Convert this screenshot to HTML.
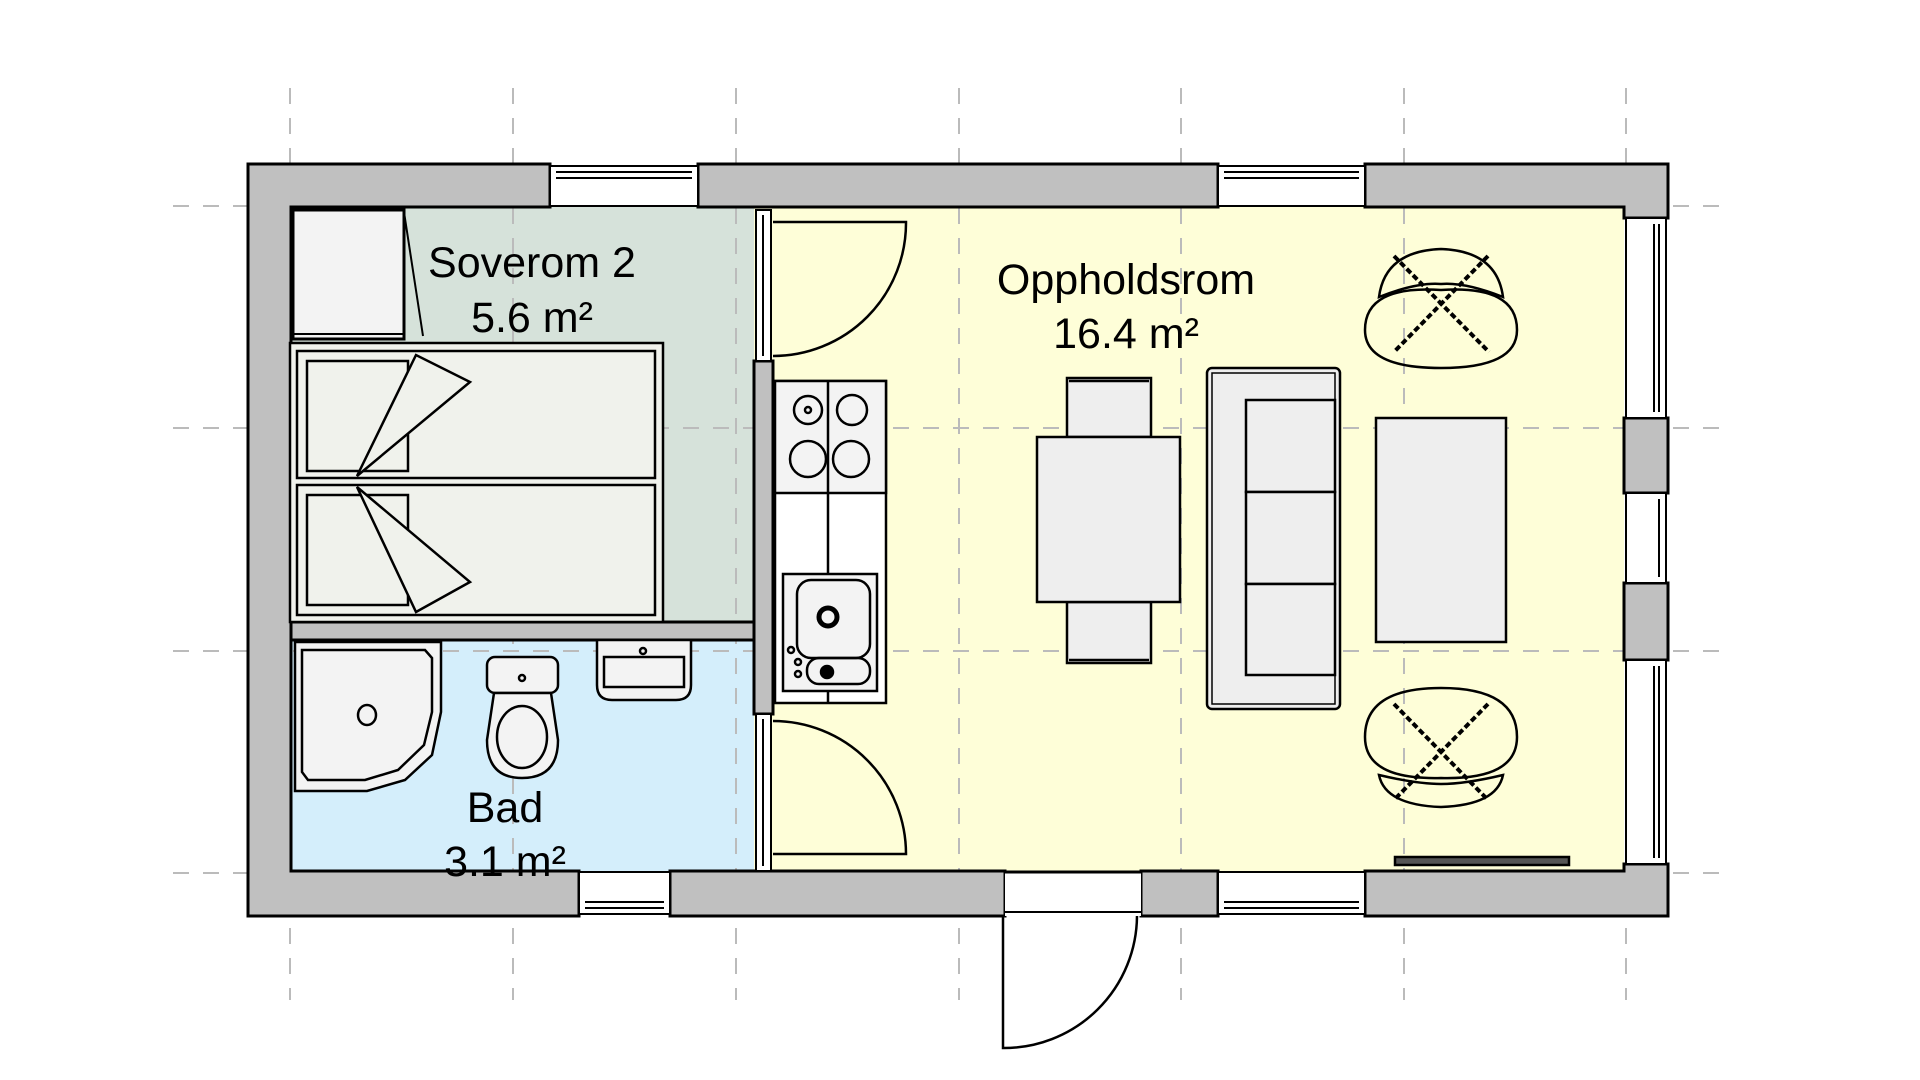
<!DOCTYPE html>
<html><head><meta charset="utf-8"><style>
html,body{margin:0;padding:0;background:#fff;width:1920px;height:1080px;overflow:hidden}
svg{display:block}
text{font-family:"Liberation Sans",Arial,sans-serif;fill:#000}
</style></head><body>
<svg width="1920" height="1080" viewBox="0 0 1920 1080" xmlns="http://www.w3.org/2000/svg">
<!-- room fills -->
<rect x="291" y="207" width="463" height="415" fill="#d6e2da"/>
<rect x="291" y="640" width="463" height="231" fill="#d4eefb"/>
<rect x="773" y="207" width="851" height="664" fill="#fefed8"/>
<rect x="754" y="207" width="19" height="664" fill="#fefed8"/>
<!-- grid -->
<g stroke="#bbb" stroke-width="2" stroke-dasharray="16,14" fill="none">
<line x1="290" y1="88" x2="290" y2="1000"/>
<line x1="513" y1="88" x2="513" y2="1000"/>
<line x1="736" y1="88" x2="736" y2="1000"/>
<line x1="959" y1="88" x2="959" y2="1000"/>
<line x1="1181" y1="88" x2="1181" y2="1000"/>
<line x1="1404" y1="88" x2="1404" y2="1000"/>
<line x1="1626" y1="88" x2="1626" y2="1000"/>
<line x1="173" y1="206" x2="1725" y2="206"/>
<line x1="173" y1="428" x2="1725" y2="428"/>
<line x1="173" y1="651" x2="1725" y2="651"/>
<line x1="173" y1="873" x2="1725" y2="873"/>
</g>
<!-- walls -->
<g fill="#c0c0c0" stroke="#000" stroke-width="3">
<path d="M248,164 H550 V207 H291 V871 H579 V916 H248 Z"/>
<rect x="698" y="164" width="520" height="43"/>
<path d="M1365,164 H1668 V218 H1624 V207 H1365 Z"/>
<rect x="670" y="871" width="335" height="45"/>
<rect x="1141" y="871" width="77" height="45"/>
<path d="M1365,871 H1624 V864 H1668 V916 H1365 Z"/>
<rect x="1624" y="418" width="44" height="75"/>
<rect x="1624" y="583" width="44" height="77"/>
<rect x="291" y="622" width="463" height="18"/>
<rect x="754" y="361" width="19" height="353"/>
</g>
<!-- windows -->
<g fill="#fff" stroke="#000" stroke-width="2">
<rect x="550" y="166" width="148" height="40"/>
<rect x="1218" y="166" width="147" height="40"/>
<rect x="579" y="872" width="91" height="42"/>
<rect x="1218" y="872" width="147" height="42"/>
<rect x="1626" y="218" width="40" height="200"/>
<rect x="1626" y="493" width="40" height="90"/>
<rect x="1626" y="660" width="40" height="204"/>
<rect x="756" y="210" width="15" height="151"/>
<rect x="756" y="714" width="15" height="157"/>
</g>
<g stroke="#000" stroke-width="2" fill="none">
<line x1="556" y1="172" x2="692" y2="172"/><line x1="556" y1="178" x2="692" y2="178"/>
<line x1="1224" y1="172" x2="1359" y2="172"/><line x1="1224" y1="178" x2="1359" y2="178"/>
<line x1="585" y1="908" x2="664" y2="908"/><line x1="585" y1="902" x2="664" y2="902"/>
<line x1="1224" y1="908" x2="1359" y2="908"/><line x1="1224" y1="902" x2="1359" y2="902"/>
<line x1="1659" y1="224" x2="1659" y2="412"/><line x1="1654" y1="224" x2="1654" y2="412"/>
<line x1="1659" y1="666" x2="1659" y2="858"/><line x1="1654" y1="666" x2="1654" y2="858"/>
<line x1="1659" y1="499" x2="1659" y2="577"/>
<line x1="763" y1="215" x2="763" y2="356"/><line x1="763" y1="719" x2="763" y2="866"/>
</g>
<!-- doors -->
<g stroke="#000" stroke-width="2.5" fill="none">
<path d="M773,222 H906 A133,133 0 0 1 773,356"/>
<path d="M773,854 H906 A133,133 0 0 0 773,721"/>
<path d="M1003,916 V1048 A133,133 0 0 0 1137,916"/>
</g>
<rect x="1005" y="872" width="136" height="44" fill="#fff"/>
<line x1="1005" y1="912" x2="1141" y2="912" stroke="#000" stroke-width="2"/>
<line x1="1005" y1="872" x2="1141" y2="872" stroke="#000" stroke-width="3"/>
<!-- closet -->
<rect x="293" y="210" width="111" height="129" fill="#f3f3f3" stroke="#000" stroke-width="3"/>
<line x1="293" y1="334" x2="404" y2="334" stroke="#000" stroke-width="2"/>
<line x1="404" y1="212" x2="423" y2="336" stroke="#000" stroke-width="2"/>
<!-- beds -->
<g stroke="#000" stroke-width="2.5" fill="#f0f2ec">
<rect x="290" y="343" width="373" height="279"/>
<rect x="297" y="351" width="358" height="127"/>
<rect x="297" y="485" width="358" height="130"/>
<rect x="307" y="361" width="101" height="110"/>
<rect x="307" y="495" width="101" height="110"/>
<path d="M357,476 L416,355 L470,382 Z"/>
<path d="M357,487 L416,612 L470,582 Z"/>
</g>
<!-- kitchen -->
<g stroke="#000" stroke-width="2.5">
<rect x="775" y="381" width="111" height="322" fill="#fff"/>
<rect x="775" y="381" width="111" height="112" fill="#f3f3f3"/>
<line x1="828" y1="381" x2="828" y2="703"/>
<circle cx="808" cy="410" r="14" fill="none"/><circle cx="808" cy="410" r="3" fill="none"/>
<circle cx="852" cy="410" r="15" fill="none"/>
<circle cx="808" cy="459" r="18" fill="none"/>
<circle cx="851" cy="459" r="18" fill="none"/>
<rect x="783" y="574" width="94" height="117" fill="#f3f3f3"/>
<rect x="797" y="580" width="73" height="78" rx="14" fill="none"/>
<rect x="807" y="658" width="63" height="26" rx="12" fill="none"/>
<circle cx="828" cy="617" r="9" fill="none" stroke-width="5"/>
<circle cx="827" cy="672" r="6" fill="#000"/>
<circle cx="791" cy="650" r="3" fill="none"/><circle cx="798" cy="662" r="3" fill="none"/><circle cx="798" cy="674" r="3" fill="none"/>
</g>
<!-- bath -->
<g stroke="#000" stroke-width="2.5" fill="#f3f3f3">
<path d="M295,642 H441 V712 L432,755 L405,780 L367,791 H295 Z"/>
<path d="M302,650 H425 L432,658 V712 L424,745 L398,770 L365,780 H308 L302,772 Z"/>
<ellipse cx="367" cy="715" rx="9" ry="10"/>
<rect x="487" y="657" width="71" height="36" rx="8"/>
<ellipse cx="522" cy="678" rx="3" ry="3"/>
<path d="M494,693 H551 L558,740 Q558,778 522,778 Q487,778 487,740 Z"/>
<ellipse cx="522" cy="737" rx="25" ry="31"/>
<path d="M597,640 H691 V685 Q691,700 676,700 H612 Q597,700 597,685 Z"/>
<rect x="604" y="657" width="80" height="30" fill="none"/>
<circle cx="643" cy="651" r="3"/>
</g>
<!-- living furniture -->
<g stroke="#000" stroke-width="2.5" fill="#eeeeee">
<rect x="1067" y="378" width="84" height="59"/>
<rect x="1067" y="602" width="84" height="61"/>
<line x1="1069" y1="381" x2="1149" y2="381"/><line x1="1069" y1="660" x2="1149" y2="660"/>
<rect x="1037" y="437" width="143" height="165"/>
<rect x="1207" y="368" width="133" height="341" rx="5"/>
<rect x="1212" y="373" width="123" height="331" fill="none" stroke-width="1.5"/>
<rect x="1246" y="400" width="89" height="92"/>
<rect x="1246" y="492" width="89" height="92"/>
<rect x="1246" y="584" width="89" height="91"/>
<rect x="1376" y="418" width="130" height="224"/>
<rect x="1395" y="857" width="174" height="8" fill="#555"/>
</g>
<g stroke="#000" stroke-width="2.5" fill="none">
<path d="M1441,249 Q1497,251 1503,297 Q1465,282 1441,284 Q1417,282 1379,297 Q1385,251 1441,249 Z"/>
<path d="M1441,290 Q1517,285 1517,330 Q1517,368 1441,368 Q1365,368 1365,330 Q1365,285 1441,290 Z"/>
<path d="M1441,807 Q1497,805 1503,775 Q1465,784 1441,784 Q1417,784 1379,775 Q1385,805 1441,807 Z"/>
<path d="M1441,778 Q1517,780 1517,737 Q1517,688 1441,688 Q1365,688 1365,737 Q1365,780 1441,778 Z"/>
</g>
<g stroke="#000" stroke-width="4" stroke-dasharray="6,3">
<line x1="1394" y1="256" x2="1489" y2="352"/><line x1="1488" y1="256" x2="1394" y2="352"/>
<line x1="1394" y1="704" x2="1488" y2="800"/><line x1="1488" y1="704" x2="1394" y2="800"/>
</g>
<!-- labels -->
<g font-size="43" text-anchor="middle">
<text x="532" y="277">Soverom 2</text>
<text x="532" y="332">5.6 m²</text>
<text x="1126" y="294">Oppholdsrom</text>
<text x="1126" y="348">16.4 m²</text>
<text x="505" y="822">Bad</text>
<text x="505" y="876">3.1 m²</text>
</g>
</svg>
</body></html>
